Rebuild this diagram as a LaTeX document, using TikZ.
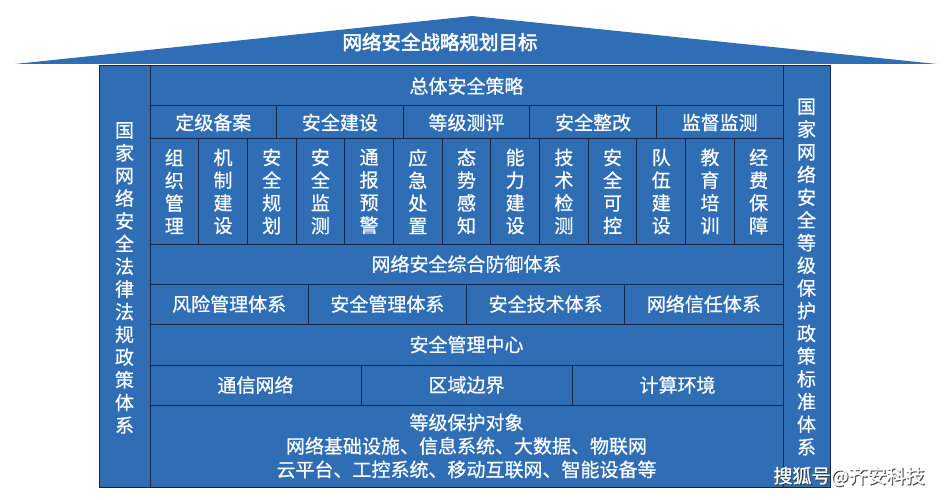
\documentclass[tikz,border=0pt]{standalone}
\usepackage{fontspec}
\setmainfont{Noto Sans CJK SC}[FakeBold=0.6]
\newfontfamily\titlefont{Noto Sans CJK SC}[FakeBold=2.5]
\newfontfamily\wmfont{Noto Sans CJK SC}[FakeBold=1.2]
\definecolor{boxblue}{RGB}{47,109,181}
\definecolor{edgenavy}{RGB}{22,38,70}
\tikzset{
  cell/.style={draw=edgenavy, line width=1pt, fill=boxblue},
  lbl/.style={text=white, font=\fontsize{19}{22.7}\selectfont, align=center, inner sep=0pt},
}
\newcommand{\cellbox}[5]{%
  \draw[cell] (#1,#2) rectangle (#3,#4);
  \node[lbl] at ({(#1+#3)/2},{(#2+#4)/2}) {#5};}
\begin{document}
\begin{tikzpicture}[x=1pt,y=-1pt]
\useasboundingbox (0,0) rectangle (945,500);
% roof
\fill[boxblue] (15,64) -- (472,16) -- (937,64) -- cycle;
\node[text=white, font=\titlefont\fontsize{19.5}{20}\selectfont, inner sep=0pt] (roof) at (440,42) {网络安全战略规划目标};
% outer columns
\draw[cell] (99,66) rectangle (150,487);
\node[lbl] (lcol) at (124.5,278) {国\\家\\网\\络\\安\\全\\法\\律\\法\\规\\政\\策\\体\\系};
\draw[cell] (783,66) rectangle (830,487);
\node[lbl] (rcol) at (806.5,277) {国\\家\\网\\络\\安\\全\\等\\级\\保\\护\\政\\策\\标\\准\\体\\系};
% row 1
\cellbox{150}{66}{783}{106}{总体安全策略}
% row 2
\foreach \t [count=\i from 0] in {定级备案,安全建设,等级测评,安全整改,监督监测}{
  \pgfmathsetmacro{\xa}{150+\i*126.6}
  \pgfmathsetmacro{\xb}{150+(\i+1)*126.6}
  \cellbox{\xa}{106}{\xb}{139}{\t}
}
% row 3 vertical
\foreach \t [count=\i from 0] in {组\\织\\管\\理,机\\制\\建\\设,安\\全\\规\\划,安\\全\\监\\测,通\\报\\预\\警,应\\急\\处\\置,态\\势\\感\\知,能\\力\\建\\设,技\\术\\检\\测,安\\全\\可\\控,队\\伍\\建\\设,教\\育\\培\\训,经\\费\\保\\障}{
  \pgfmathsetmacro{\xa}{150+\i*48.692}
  \pgfmathsetmacro{\xb}{150+(\i+1)*48.692}
  \cellbox{\xa}{139}{\xb}{244}{\t}
}
% row 4
\cellbox{150}{244}{783}{284}{网络安全综合防御体系}
% row 5
\foreach \t [count=\i from 0] in {风险管理体系,安全管理体系,安全技术体系,网络信任体系}{
  \pgfmathsetmacro{\xa}{150+\i*158.25}
  \pgfmathsetmacro{\xb}{150+(\i+1)*158.25}
  \cellbox{\xa}{284}{\xb}{324}{\t}
}
% row 6
\cellbox{150}{324}{783}{365}{安全管理中心}
% row 7
\foreach \t [count=\i from 0] in {通信网络,区域边界,计算环境}{
  \pgfmathsetmacro{\xa}{150+\i*211}
  \pgfmathsetmacro{\xb}{150+(\i+1)*211}
  \cellbox{\xa}{365}{\xb}{405}{\t}
}
% bottom
\draw[cell] (150,405) rectangle (783,487);
\node[lbl, font=\fontsize{19}{23.5}\selectfont] (obj) at (466.5,446) {等级保护对象\\网络基础设施、信息系统、大数据、物联网\\云平台、工控系统、移动互联网、智能设备等};
% outer frame
\draw[edgenavy, line width=1pt] (99,66) rectangle (830,487);
% watermark
\node[text=black!75, font=\wmfont\fontsize{19}{20}\selectfont, inner sep=0pt] (wmshadow) at (850,477.5) {搜狐号@齐安科技};
\node[text=white, font=\wmfont\fontsize{19}{20}\selectfont, inner sep=0pt] (wm) at (849,476.5) {搜狐号@齐安科技};
\end{tikzpicture}
\end{document}
